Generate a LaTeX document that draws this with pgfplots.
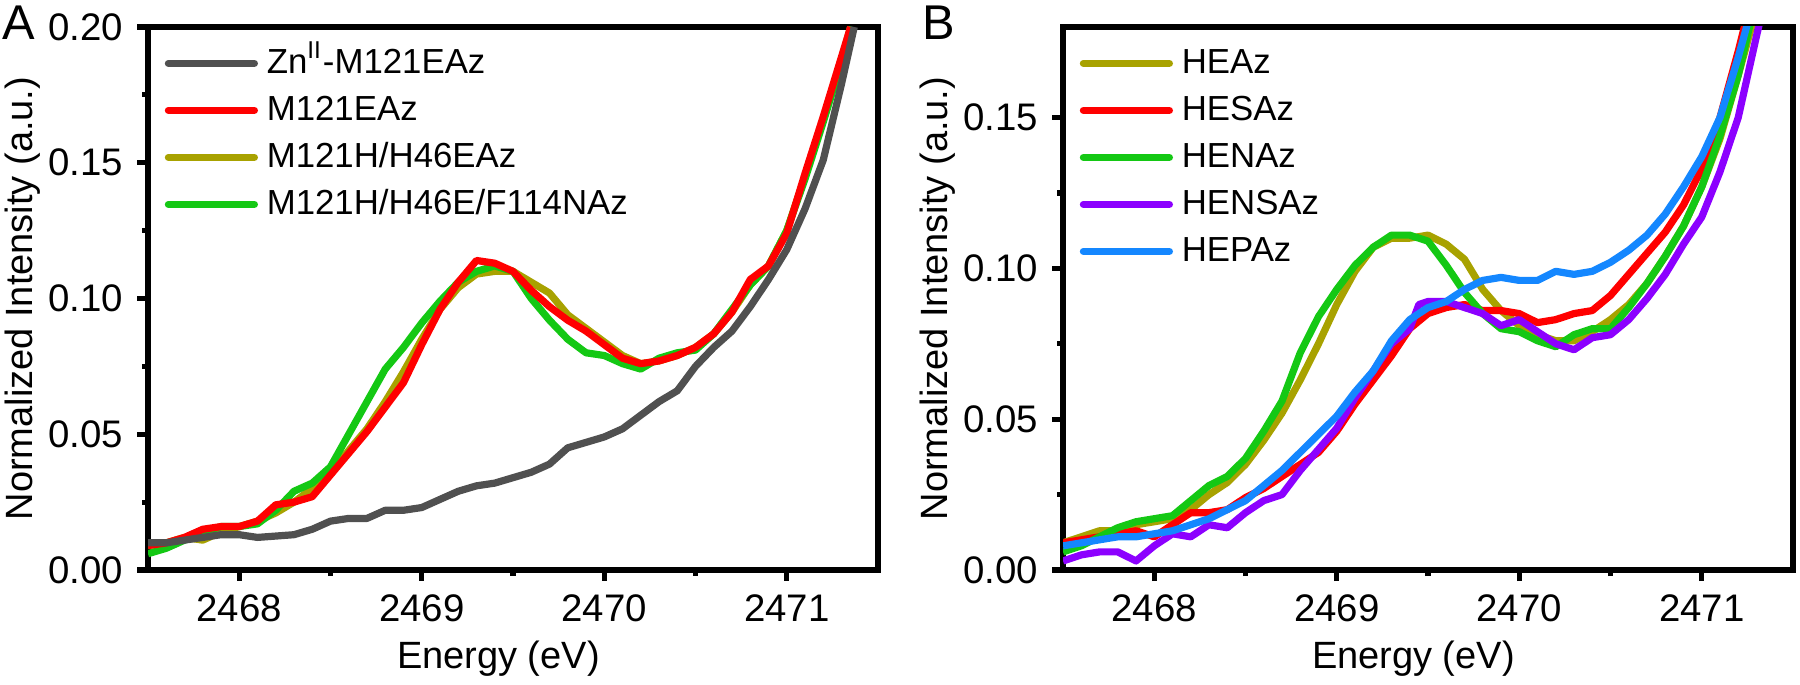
\documentclass[border=0pt]{standalone}
\usepackage{fontspec}
\setmainfont{Liberation Sans}
\usepackage{pgfplots}
\pgfplotsset{compat=1.18}

\definecolor{cgray}{RGB}{80,80,80}
\definecolor{cred}{RGB}{255,0,0}
\definecolor{colive}{RGB}{168,162,0}
\definecolor{cgreen}{RGB}{20,200,20}
\definecolor{cpurple}{RGB}{140,0,255}
\definecolor{cblue}{RGB}{20,135,255}

\pgfplotsset{
  xas/.style={
    scale only axis, width=182.5pt, height=135.75pt,
    xmin=2467.5, xmax=2471.5,
    xtick={2468,2469,2470,2471},
    minor x tick num=1, minor y tick num=1,
    tick align=outside, xtick pos=left, ytick pos=left,
    major tick length=2.75pt, minor tick length=1.5pt,
    every tick/.style={black, line width=1.3pt},
    axis line style={line width=1.5pt},
    tick label style={font=\fontsize{9.6}{11}\selectfont},
    label style={font=\fontsize{9.5}{11}\selectfont},
    xticklabel style={/pgf/number format/1000 sep={}},
    yticklabel style={/pgf/number format/.cd, fixed, fixed zerofill, precision=2},
    /pgf/number format/assume math mode=true,
    xlabel={Energy (eV)},
    ylabel={Normalized Intensity (a.u.)},
    xlabel style={at={(axis description cs:0.48,-0.1805)}, anchor=base},
    ylabel style={at={(axis description cs:-0.158,0.5)}, anchor=base},
    every axis plot/.append style={line width=1.8pt, line join=round},
    legend cell align=left,
    legend image code/.code={\draw[#1, line cap=round] (0pt,0pt) -- (21.5pt,0pt);},
    legend style={at={(axis description cs:0,1)}, anchor=north west,
      draw=none, fill=none, xshift=4pt, yshift=-4.4pt, inner sep=0pt,
      row sep=2.75pt, font=\fontsize{8.7}{10}\selectfont,
      nodes={inner sep=0pt, text height=7pt, text depth=2pt},
      /tikz/every odd column/.append style={column sep=2.2pt}},
  }
}

\begin{document}
\begin{tikzpicture}
\path[use as bounding box] (0,0) rectangle (450pt,171.25pt);

% panel A
\begin{axis}[xas, at={(37pt,28.75pt)}, anchor=south west,
  ymin=0, ymax=0.2, ytick={0,0.05,0.1,0.15,0.2}]
\addlegendimage{cgray, line width=1.8pt}
\addlegendentry{Zn\textsuperscript{II}-M121EAz}
\addlegendimage{cred, line width=1.8pt}
\addlegendentry{M121EAz}
\addlegendimage{colive, line width=1.8pt}
\addlegendentry{M121H/H46EAz}
\addlegendimage{cgreen, line width=1.8pt}
\addlegendentry{M121H/H46E/F114NAz}

% M121H/H46EAz
\addplot[colive, forget plot] table {
2467.5 0.009
2467.6 0.010
2467.7 0.012
2467.8 0.011
2467.9 0.014
2468.0 0.016
2468.1 0.018
2468.2 0.021
2468.3 0.025
2468.4 0.030
2468.5 0.036
2468.6 0.044
2468.7 0.052
2468.8 0.062
2468.9 0.073
2469.0 0.085
2469.1 0.096
2469.2 0.104
2469.3 0.109
2469.4 0.110
2469.5 0.110
2469.6 0.106
2469.7 0.102
2469.8 0.094
2469.9 0.089
2470.0 0.084
2470.1 0.079
2470.2 0.076
2470.3 0.077
2470.4 0.079
2470.5 0.082
2470.6 0.087
2470.7 0.095
2470.8 0.105
2470.9 0.112
2471.0 0.125
2471.1 0.145
2471.2 0.166
2471.3 0.188
2471.35 0.200
};
% M121H/H46E/F114NAz
\addplot[cgreen, forget plot] table {
2467.5 0.006
2467.6 0.008
2467.7 0.011
2467.8 0.014
2467.9 0.016
2468.0 0.016
2468.1 0.017
2468.2 0.022
2468.3 0.029
2468.4 0.032
2468.5 0.038
2468.6 0.050
2468.7 0.062
2468.8 0.074
2468.9 0.082
2469.0 0.091
2469.1 0.099
2469.2 0.106
2469.3 0.110
2469.4 0.112
2469.5 0.110
2469.6 0.100
2469.7 0.092
2469.8 0.085
2469.9 0.080
2470.0 0.079
2470.1 0.076
2470.2 0.074
2470.3 0.078
2470.4 0.080
2470.5 0.081
2470.6 0.087
2470.7 0.096
2470.8 0.105
2470.9 0.112
2471.0 0.125
2471.1 0.144
2471.2 0.165
2471.3 0.187
2471.36 0.200
};
% M121EAz
\addplot[cred, forget plot] table {
2467.5 0.009
2467.6 0.010
2467.7 0.012
2467.8 0.015
2467.9 0.016
2468.0 0.016
2468.1 0.018
2468.2 0.024
2468.3 0.025
2468.4 0.027
2468.5 0.035
2468.6 0.043
2468.7 0.051
2468.8 0.060
2468.9 0.069
2469.0 0.083
2469.1 0.096
2469.2 0.106
2469.3 0.114
2469.4 0.113
2469.5 0.110
2469.6 0.103
2469.7 0.097
2469.8 0.092
2469.9 0.088
2470.0 0.083
2470.1 0.078
2470.2 0.076
2470.3 0.077
2470.4 0.079
2470.5 0.082
2470.6 0.087
2470.7 0.095
2470.8 0.107
2470.9 0.112
2471.0 0.124
2471.1 0.146
2471.2 0.167
2471.3 0.189
2471.35 0.200
};
% Zn(II)-M121EAz
\addplot[cgray, forget plot] table {
2467.5 0.010
2467.6 0.010
2467.7 0.011
2467.8 0.012
2467.9 0.013
2468.0 0.013
2468.1 0.012
2468.2 0.0125
2468.3 0.013
2468.4 0.015
2468.5 0.018
2468.6 0.019
2468.7 0.019
2468.8 0.022
2468.9 0.022
2469.0 0.023
2469.1 0.026
2469.2 0.029
2469.3 0.031
2469.4 0.032
2469.5 0.034
2469.6 0.036
2469.7 0.039
2469.8 0.045
2469.9 0.047
2470.0 0.049
2470.1 0.052
2470.2 0.057
2470.3 0.062
2470.4 0.066
2470.5 0.075
2470.6 0.082
2470.7 0.088
2470.8 0.097
2470.9 0.107
2471.0 0.118
2471.1 0.133
2471.2 0.151
2471.3 0.179
2471.37 0.200
};
\end{axis}

% panel B
\begin{axis}[xas, at={(265.75pt,28.75pt)}, anchor=south west,
  ymin=0, ymax=0.18, ytick={0,0.05,0.1,0.15}]
% HEAz
\addplot[colive] table {
2467.5 0.009
2467.6 0.011
2467.7 0.013
2467.8 0.013
2467.9 0.015
2468.0 0.016
2468.1 0.017
2468.2 0.020
2468.3 0.025
2468.4 0.029
2468.5 0.035
2468.6 0.043
2468.7 0.052
2468.8 0.063
2468.9 0.075
2469.0 0.088
2469.1 0.099
2469.2 0.107
2469.3 0.110
2469.4 0.110
2469.5 0.111
2469.6 0.108
2469.7 0.103
2469.8 0.093
2469.9 0.086
2470.0 0.081
2470.1 0.078
2470.2 0.076
2470.3 0.076
2470.4 0.079
2470.5 0.083
2470.6 0.088
2470.7 0.095
2470.8 0.104
2470.9 0.114
2471.0 0.127
2471.1 0.143
2471.2 0.164
2471.3 0.186
};
\addlegendentry{HEAz}
% HESAz
\addplot[cred] table {
2467.5 0.009
2467.6 0.010
2467.7 0.011
2467.8 0.012
2467.9 0.013
2468.0 0.011
2468.1 0.015
2468.2 0.019
2468.3 0.019
2468.4 0.020
2468.5 0.024
2468.6 0.027
2468.7 0.031
2468.8 0.035
2468.9 0.039
2469.0 0.046
2469.1 0.055
2469.2 0.063
2469.3 0.071
2469.4 0.080
2469.5 0.085
2469.6 0.087
2469.7 0.088
2469.8 0.086
2469.9 0.086
2470.0 0.085
2470.1 0.082
2470.2 0.083
2470.3 0.085
2470.4 0.086
2470.5 0.091
2470.6 0.098
2470.7 0.105
2470.8 0.112
2470.9 0.121
2471.0 0.133
2471.1 0.150
2471.2 0.172
2471.3 0.196
};
\addlegendentry{HESAz}
% HENAz
\addplot[cgreen] table {
2467.5 0.006
2467.6 0.008
2467.7 0.011
2467.8 0.014
2467.9 0.016
2468.0 0.017
2468.1 0.018
2468.2 0.023
2468.3 0.028
2468.4 0.031
2468.5 0.037
2468.6 0.046
2468.7 0.056
2468.8 0.072
2468.9 0.084
2469.0 0.093
2469.1 0.101
2469.2 0.107
2469.3 0.111
2469.4 0.111
2469.5 0.109
2469.6 0.101
2469.7 0.092
2469.8 0.085
2469.9 0.080
2470.0 0.079
2470.1 0.076
2470.2 0.074
2470.3 0.078
2470.4 0.080
2470.5 0.080
2470.6 0.087
2470.7 0.095
2470.8 0.104
2470.9 0.114
2471.0 0.127
2471.1 0.144
2471.2 0.164
2471.3 0.190
};
\addlegendentry{HENAz}
% HENSAz
\addplot[cpurple] table {
2467.5 0.003
2467.6 0.005
2467.7 0.006
2467.8 0.006
2467.9 0.003
2468.0 0.008
2468.1 0.012
2468.2 0.011
2468.3 0.015
2468.4 0.014
2468.5 0.019
2468.6 0.023
2468.7 0.025
2468.8 0.033
2468.9 0.040
2469.0 0.047
2469.1 0.057
2469.2 0.066
2469.3 0.075
2469.4 0.080
2469.45 0.088
2469.5 0.089
2469.6 0.089
2469.7 0.087
2469.8 0.085
2469.9 0.081
2470.0 0.083
2470.1 0.079
2470.2 0.075
2470.3 0.073
2470.4 0.077
2470.5 0.078
2470.6 0.083
2470.7 0.090
2470.8 0.098
2470.9 0.108
2471.0 0.117
2471.1 0.132
2471.2 0.150
2471.3 0.177
2471.35 0.190
};
\addlegendentry{HENSAz}
% HEPAz
\addplot[cblue] table {
2467.5 0.008
2467.6 0.009
2467.7 0.010
2467.8 0.011
2467.9 0.011
2468.0 0.012
2468.1 0.013
2468.2 0.015
2468.3 0.017
2468.4 0.020
2468.5 0.023
2468.6 0.028
2468.7 0.033
2468.8 0.039
2468.9 0.045
2469.0 0.051
2469.1 0.059
2469.2 0.066
2469.3 0.076
2469.4 0.083
2469.5 0.087
2469.6 0.089
2469.7 0.093
2469.8 0.096
2469.9 0.097
2470.0 0.096
2470.1 0.096
2470.2 0.099
2470.3 0.098
2470.4 0.099
2470.5 0.102
2470.6 0.106
2470.7 0.111
2470.8 0.118
2470.9 0.127
2471.0 0.137
2471.1 0.150
2471.2 0.170
2471.3 0.192
};
\addlegendentry{HEPAz}
\end{axis}

\node[anchor=base west, inner sep=0pt, font=\fontsize{12.2}{14}\selectfont] at (0.5pt,161.25pt) {A};
\node[anchor=base west, inner sep=0pt, font=\fontsize{12.2}{14}\selectfont] at (230.5pt,161.25pt) {B};
\end{tikzpicture}
\end{document}
